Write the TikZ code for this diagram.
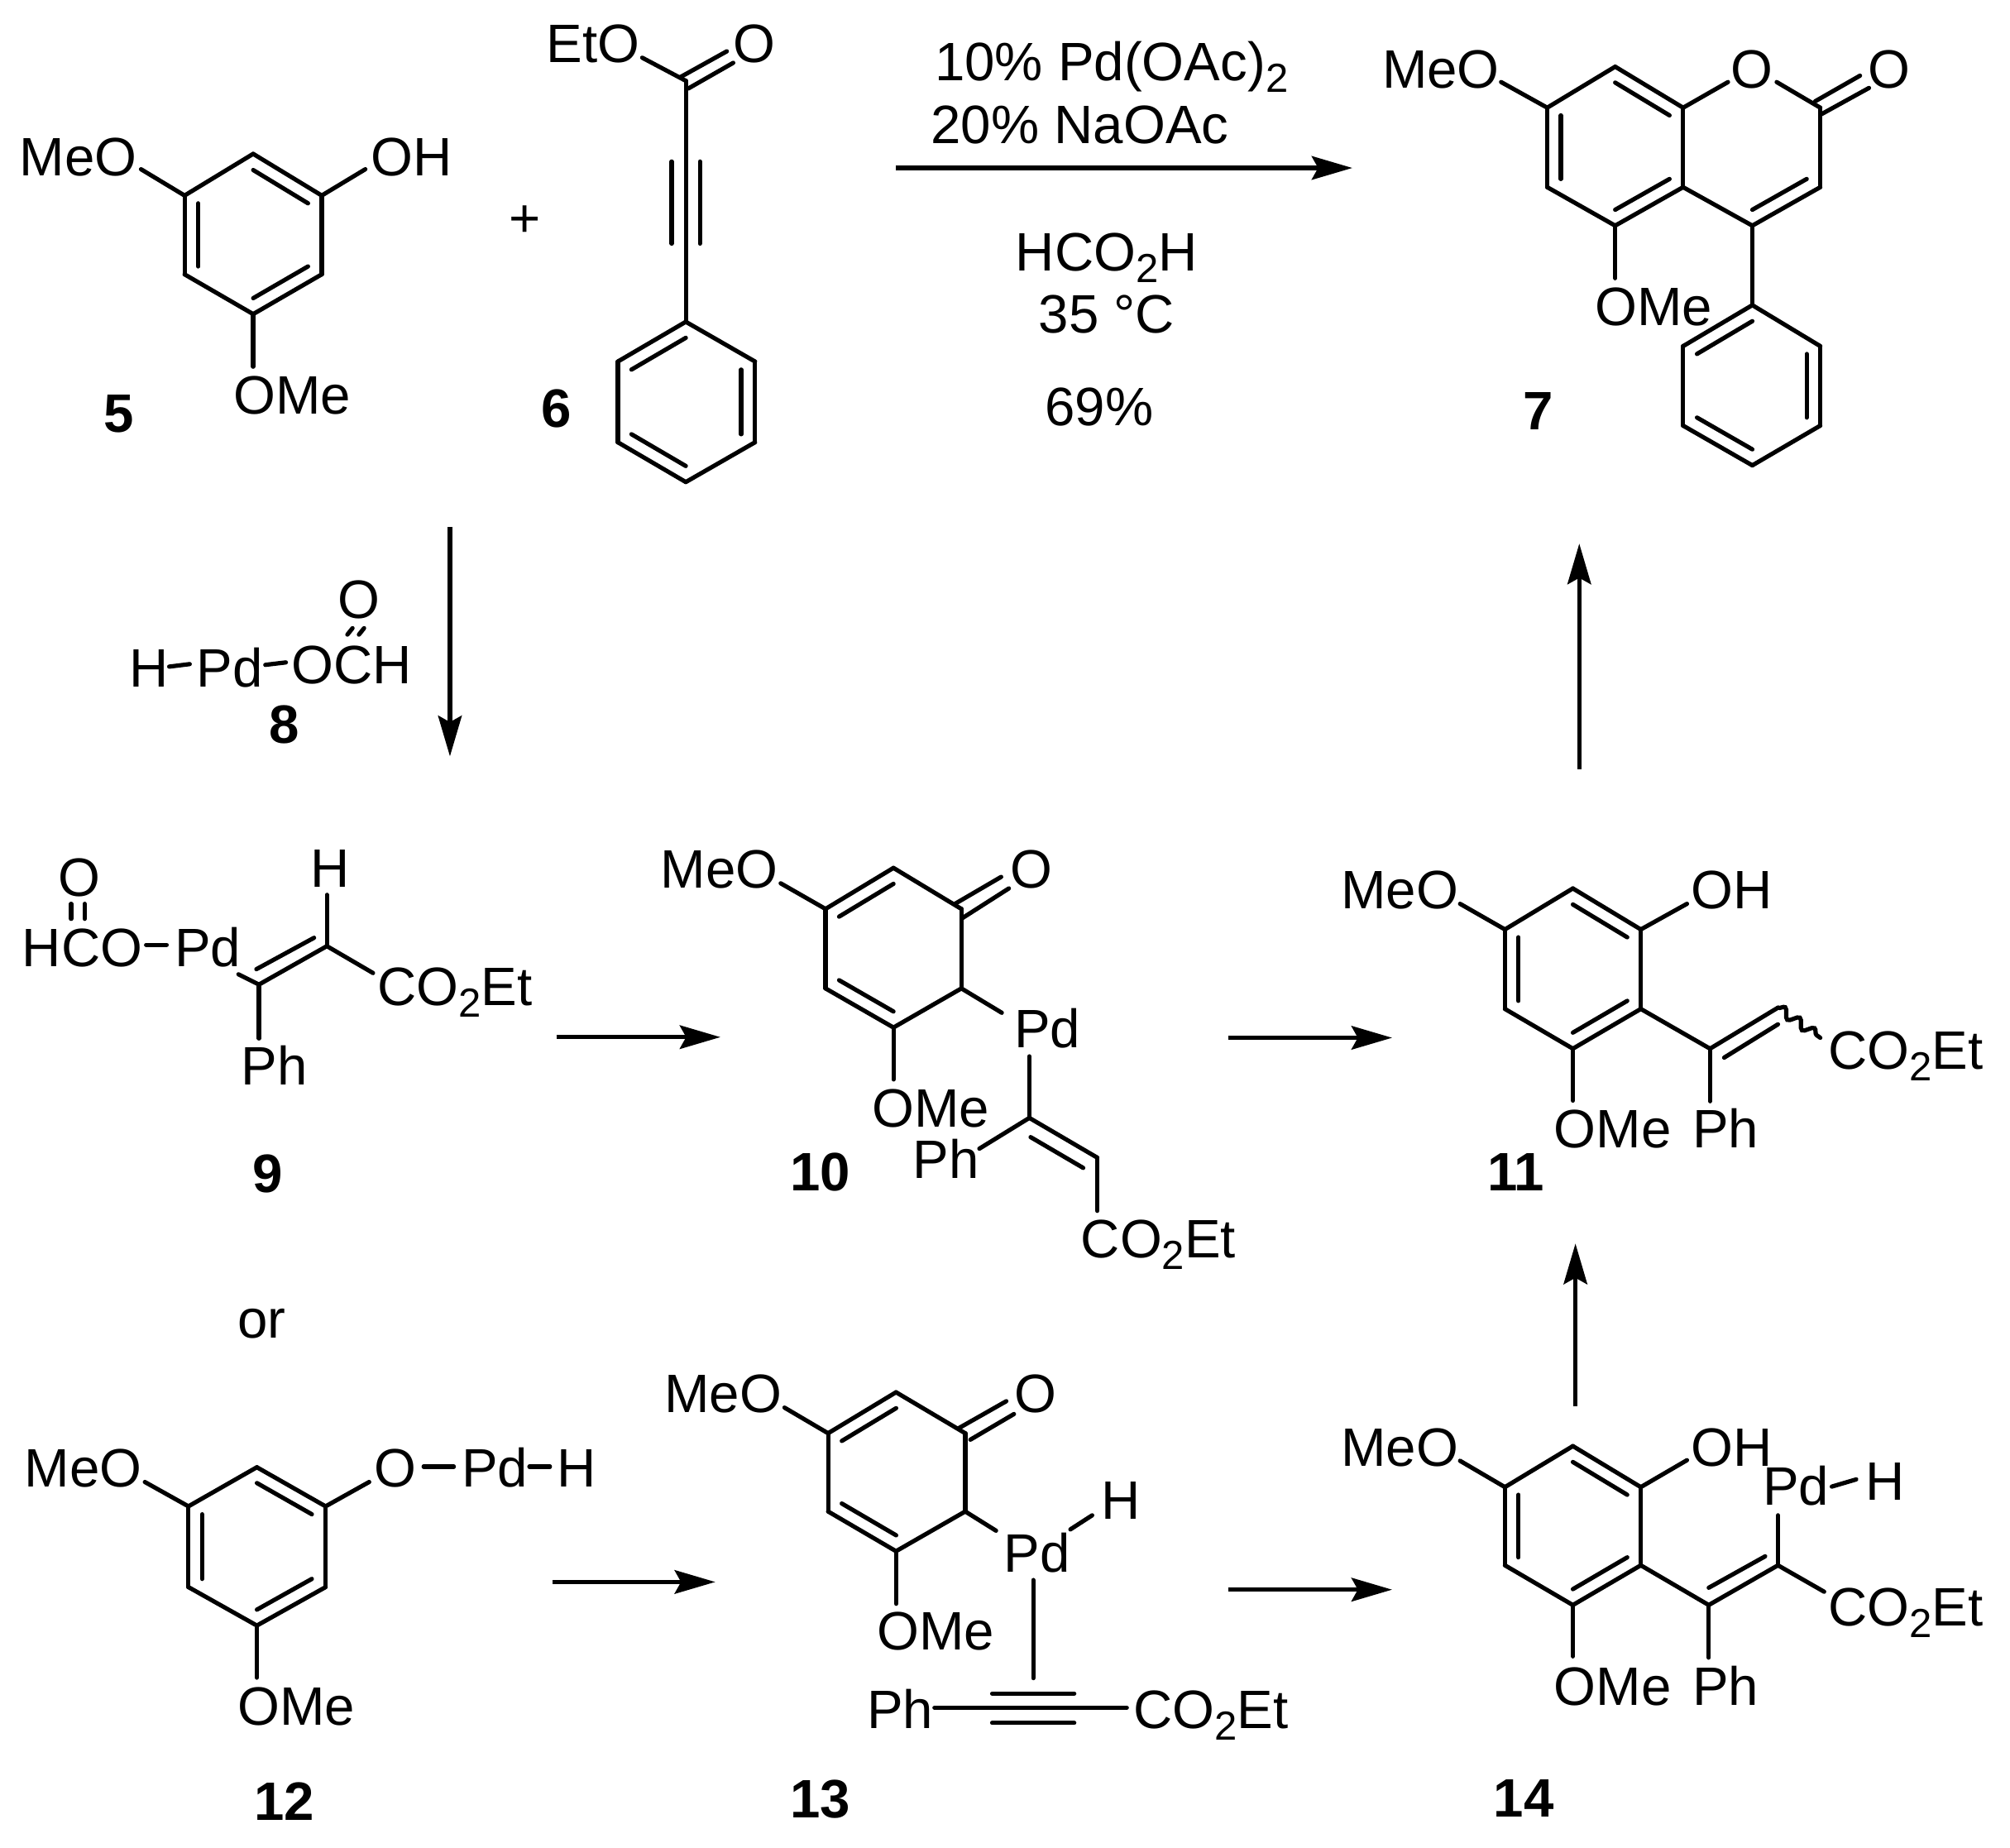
\documentclass[tikz,border=0pt]{standalone}
\usepackage{fontspec}
\setmainfont{Liberation Sans}
\usetikzlibrary{arrows.meta, calc, decorations.pathmorphing}

\newcommand{\subtwo}{\raisebox{-2.6pt}{\fontsize{9}{9}\selectfont 2}}

\begin{document}
\begin{tikzpicture}
            [x=0.01cm, y=-0.01cm,
            bond/.style={
                draw, line width=0.95pt, line cap=round
            },
            line/.style={
                draw, line width=1pt, -{Stealth[length=9pt, width=5.2pt, inset=1.4pt]}
            },
            atomlabel/.style={
                anchor=base west, inner sep=0pt, xshift=-0.4pt, font=\fontsize{12}{14}\selectfont
            },
            number/.style={atomlabel, font=\fontsize{12}{14}\selectfont\bfseries}
            ]
            \useasboundingbox (0,0) rectangle (1568,1441);

            % Atoms and free bond ends
            \foreach \atom/\x/\y in {
                A0/197.5/183, A1/144/152.5, A2/197.5/120, A3/251/152.5, A4/251/214, A5/197.5/245, A6/144/214,
                A7/110/132, A8/285/132, A9/197.5/286,
                B0/535/313.5, B1/535/63, B2/501/45, B3/531/60, B4/567/40, B5/537/69, B6/572/49,
                B7/535/251, B8/589/282, B9/589/345, B10/535/376, B11/482/345, B12/482/282,
                B13/524/126, B14/524/190, B15/546/126, B16/546/190,
                C0/1260/114, C1/1207/84, C2/1260/52, C3/1313/84, C4/1313/146, C5/1260/176, C6/1207/146,
                C7/1420/84, C8/1420/146, C9/1367/176, C10/1171/64, C11/1348/64, C12/1386/64,
                C13/1416/79, C14/1451/59, C15/1421/89, C16/1458/68.6, C17/1260/217, C18/1367/114,
                C19/1367/238, C20/1420/270, C21/1420/332, C22/1367/363, C23/1313/332, C24/1313/270, C25/1367/300.5,
                D1/132/520, D2/148/518, D3/207/518.6, D4/223/516.7, D5/271/495, D6/275/490, D7/280/495, D8/284/490,
                E1/55.5/705, E2/55.5/716.7, E3/66/705, E4/66/716.7, E5/114/737, E6/130/737, E7/186/760, E8/202/768,
                E9/255/738, E10/200/756, E11/245/731.5, E12/255/698, E13/291/759, E14/202/810,
                F0/697/739, F1/644/709, F2/697/677, F3/750/709, F4/750/771, F5/697/801.5, F6/644/771,
                F7/609/689, F8/745/705, F9/781/684, F10/751/716, F11/787/693, F12/781.5/790, F13/803/824,
                F14/803/872, F15/764/896, F16/856/903, F17/804/887, F18/845/911, F19/856/944.5, F20/697/842,
                G0/1227/755.5, G1/1174/725, G2/1227/693, G3/1280/725, G4/1280/787, G5/1227/818, G6/1174/787,
                G7/1139/705, G8/1316/705, G9/1334/818, G10/1387/786, G11/1345/825, G12/1387/799,
                G13/1420/809.5, G14/1334/859, G15/1227/858.5,
                H0/200.4/1206, H1/147/1175, H2/200.4/1144.5, H3/254/1175, H4/254/1238, H5/200.4/1268, H6/147/1238,
                H7/113/1156, H8/288/1156, H9/330.5/1144, H10/354/1144, H11/413/1144, H12/429/1144, H13/200.4/1308.6,
                I0/699.5/1148, I1/646/1118, I2/699/1086, I3/753/1118, I4/753/1179, I5/699/1210, I6/646/1179,
                I7/612/1098, I8/748/1114, I9/785/1093, I10/757/1123, I11/791/1103, I12/777/1194, I13/835/1193,
                I14/852/1182, I15/806/1232.5, I16/806/1309, I17/699/1251, I18/729/1332, I19/879/1332,
                I20/774/1321, I21/838/1321, I22/774/1344, I23/838/1344,
                J0/1227/1190, J1/1174/1160, J2/1227/1128, J3/1280/1160, J4/1280/1221, J5/1227/1252, J6/1174/1221,
                J7/1139/1139.5, J8/1316/1139, J9/1333/1252, J10/1387/1221, J11/1333/1238.5, J12/1377/1214,
                J13/1423/1241.6, J14/1387/1182, J15/1429/1159.6, J16/1448/1154, J17/1333/1293, J18/1227/1292}{
                \coordinate (\atom) at (\x,\y);
            }

            % Single bonds
            \foreach \from/\to in {
                A1/A2, A2/A3, A3/A4, A4/A5, A5/A6, A6/A1, A1/A7, A3/A8, A5/A9,
                B1/B2, B3/B4, B5/B6, B1/B7, B13/B14, B15/B16, B7/B8, B8/B9, B9/B10, B10/B11, B11/B12, B12/B7,
                C1/C2, C2/C3, C3/C4, C4/C5, C5/C6, C6/C1, C1/C10, C3/C11, C12/C7, C7/C8, C8/C9, C9/C4,
                C13/C14, C15/C16, C5/C17, C9/C19, C19/C20, C20/C21, C21/C22, C22/C23, C23/C24, C24/C19,
                D1/D2, D3/D4, D5/D6, D7/D8,
                E1/E2, E3/E4, E5/E6, E7/E8, E8/E9, E10/E11, E9/E12, E9/E13, E8/E14,
                F1/F2, F2/F3, F3/F4, F4/F5, F5/F6, F6/F1, F1/F7, F8/F9, F10/F11, F4/F12,
                F13/F14, F14/F15, F14/F16, F17/F18, F16/F19, F5/F20,
                G1/G2, G2/G3, G3/G4, G4/G5, G5/G6, G6/G1, G1/G7, G3/G8, G4/G9, G9/G10, G11/G12, G9/G14, G5/G15,
                H1/H2, H2/H3, H3/H4, H4/H5, H5/H6, H6/H1, H1/H7, H3/H8, H9/H10, H11/H12, H5/H13,
                I1/I2, I2/I3, I3/I4, I4/I5, I5/I6, I6/I1, I1/I7, I8/I9, I10/I11, I4/I12, I13/I14, I15/I16,
                I5/I17, I18/I19, I20/I21, I22/I23,
                J1/J2, J2/J3, J3/J4, J4/J5, J5/J6, J6/J1, J1/J7, J3/J8, J4/J9, J9/J10, J11/J12, J10/J13,
                J10/J14, J15/J16, J9/J17, J5/J18}{
                \path [bond] (\from) -- (\to);
            }

            % Inner lines of the ring double bonds
            \foreach \from/\to/\mid in {
                A2/A3/A0, A4/A5/A0, A6/A1/A0, B12/B7/B0, B8/B9/B0, B10/B11/B0,
                C2/C3/C0, C6/C1/C0, C4/C5/C0, C8/C9/C18, C24/C19/C25, C20/C21/C25, C22/C23/C25,
                F1/F2/F0, F6/F5/F0, G2/G3/G0, G6/G1/G0, G4/G5/G0,
                H2/H3/H0, H6/H1/H0, H4/H5/H0, I1/I2/I0, I6/I5/I0, J2/J3/J0, J6/J1/J0, J4/J5/J0}{
                \path [bond] ($(\from)!.2!(\mid)$) -- ($(\to)!.2!(\mid)$);
            }

            % Wavy bond
            \path [bond, decorate, decoration={snake, amplitude=1pt, segment length=4pt}] (G10) -- (G13);

            % Reaction arrows
            \foreach \pos/\xa/\ya/\xb/\yb in {
                1/699/131/1055/131, 2/351/411/351/590, 3/434/809/562/809, 4/958/809.5/1086/809.5,
                5/1232/600/1232/424, 6/431/1234/558/1234, 7/958/1240/1086/1240, 8/1229/1097/1229/970}{
                \coordinate (tail\pos) at (\xa,\ya);
                \coordinate (head\pos) at (\xb,\yb);
                \path [line] (tail\pos) -- (head\pos);
            }

            % Atom labels and conditions
            \foreach \name/\x/\y/\txt in {
                meoA/16/137/MeO, ohA/290/137/OH, omeA/183/323/OMe, plus/398/185/+,
                etoB/427/49/EtO, oB/573/49/O,
                condA/730/63/10\% Pd(OAc)\subtwo, condB/727/112/20\% NaOAc,
                condC/793/211/HCO\subtwo H, condD/811/260/35 °C, condE/816/332/69\%,
                meoC/1079/69/MeO, oC/1351/69/O, ocC/1458/69/O, omeC/1245/254/OMe,
                oD/264/482/O, hD/102/536/H, pdD/154/536/Pd, ochD/228/533/OCH,
                oE/46/699/O, hcoE/18/754/HCO, pdE/137/754/Pd, hE/243/692/H, coE/295/784/CO\subtwo Et, phE/189/846/Ph,
                meoF/516/693/MeO, oF/789/693/O, pdF/792/817/Pd, omeF/681/879/OMe, phF/713/919/Ph, coF/844/981/CO\subtwo Et,
                meoG/1047/709/MeO, ohG/1320/709/OH, coG/1427/834/CO\subtwo Et, omeG/1213/895/OMe, phG/1321/895/Ph,
                or/186/1044/or,
                meoH/20/1160/MeO, oH/293/1160/O, pdH/361/1160/Pd, hH/435/1160/H, omeH/186/1346/OMe,
                meoI/519/1102/MeO, oI/792/1102/O, pdI/784/1226/Pd, hI/860/1185/H, omeI/685/1287/OMe,
                phI/677/1348/Ph, coI/885/1348/CO\subtwo Et,
                meoJ/1047/1144/MeO, ohJ/1320/1144/OH, pdJ/1376/1174/Pd, hJ/1456/1170/H, coJ/1427/1268/CO\subtwo Et,
                omeJ/1213/1330/OMe, phJ/1321/1330/Ph}{
                \node[atomlabel] (\name) at (\x,\y) {\txt};
            }

            % Compound numbers
            \foreach \pos/\x/\y in {
                5/82/337, 6/423/333, 7/1189/335, 8/211/580, 9/198/930, 10/617/929,
                11/1161/929, 12/199/1420, 13/617/1418, 14/1166/1417}{
                \node[number] (cmpd\pos) at (\x,\y) {\pos};
            }
\end{tikzpicture}
\end{document}
